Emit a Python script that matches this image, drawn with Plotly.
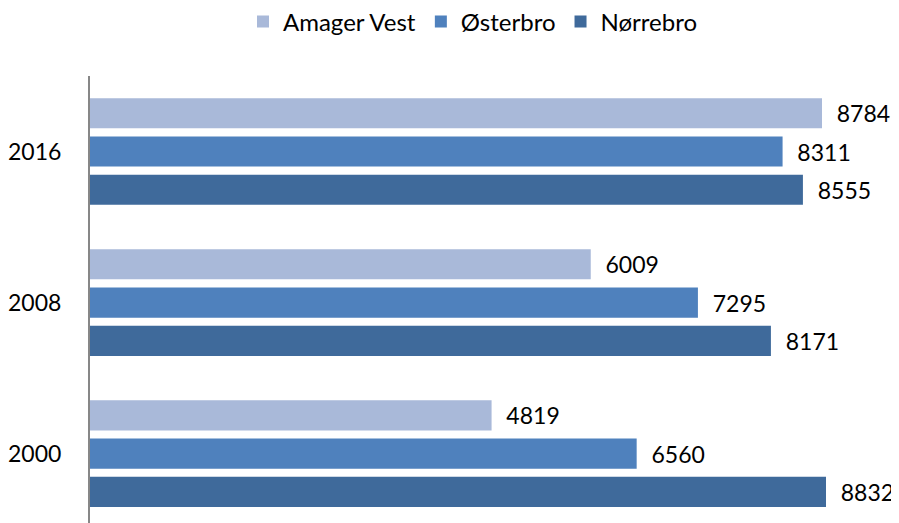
import plotly.graph_objects as go

years = ["2000", "2008", "2016"]
amager_vest = [4819, 6009, 8784]
osterbro = [6560, 7295, 8311]
norrebro = [8832, 8171, 8555]

series_names = ["Amager Vest", "Østerbro", "Nørrebro"]
colors = {"Amager Vest": "#A9B9D9", "Østerbro": "#4F81BD", "Nørrebro": "#3F6A9B"}
values = {"Amager Vest": amager_vest, "Østerbro": osterbro, "Nørrebro": norrebro}

FONT = "Lato"
W, H = 891, 515  # page body has an 8px margin
fig = go.Figure()
# add in reverse so Amager Vest sits on top within each group
for name in reversed(series_names):
    vals = values[name]
    fig.add_trace(go.Bar(
        y=years, x=vals, name=name, orientation="h",
        marker=dict(color=colors[name], line=dict(width=0)),
        text=[f"{v}" for v in vals], texttemplate="  %{text}",
        textposition="outside", constraintext="none", cliponaxis=False,
        textfont=dict(family=FONT, size=23, color="#000000"),
    ))

fig.update_layout(
    width=W, height=H,
    margin=dict(l=82, r=0, t=68, b=0, autoexpand=False),
    barmode="group", bargap=0.24, bargroupgap=0.21,
    paper_bgcolor="white", plot_bgcolor="white",
    font=dict(family=FONT, size=23, color="#000000"),
    showlegend=True,
    legend=dict(orientation="h", traceorder="reversed",
                xref="container", yref="container",
                x=465 / W, xanchor="center", y=1 - 14 / H, yanchor="middle",
                font=dict(family=FONT, size=24), itemclick=False),
    xaxis=dict(range=[0, 9708], showgrid=False, zeroline=False, showticklabels=False,
               showline=False, ticks="", automargin=False),
    yaxis=dict(type="category", range=[-0.46, 2.5], showgrid=False, zeroline=False,
               showline=True, linecolor="#878787", linewidth=2, ticks="",
               automargin=False,
               ticklabelstandoff=22, tickfont=dict(family=FONT, size=23)),
)

fig.write_html("out.html")
